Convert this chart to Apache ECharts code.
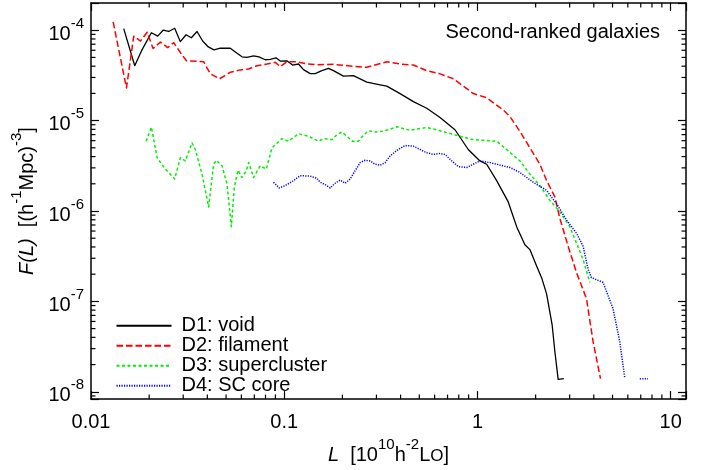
<!DOCTYPE html>
<html>
<head>
<meta charset="utf-8">
<script src="https://cdn.jsdelivr.net/npm/echarts@6/dist/echarts.min.js"></script>
<style>
  html, body { margin: 0; padding: 0; background: #fff; }
  #chart { width: 705px; height: 470px; }
</style>
</head>
<body>
<div id="chart"></div>
<script>
// Luminosity function of second-ranked galaxies in four density environments.
// L in units of 10^10 h^-2 L_sun, F(L) in (h^-1 Mpc)^-3.

const voidL = [0.01477, 0.01684, 0.01824, 0.02054, 0.02214, 0.02361, 0.02524, 0.02711, 0.0290, 0.03105,
  0.03307, 0.03538, 0.03782, 0.04048, 0.04333, 0.04669, 0.05259, 0.0563, 0.06045, 0.06415,
  0.06939, 0.0740, 0.07977, 0.08463, 0.0906, 0.09535, 0.1032, 0.1104, 0.1186, 0.1258,
  0.1363, 0.1446, 0.1566, 0.1694, 0.1798, 0.2025, 0.2281, 0.2676, 0.3134, 0.3394,
  0.3977, 0.4658, 0.5465, 0.640, 0.765, 0.896, 1.030, 1.116, 1.257, 1.443,
  1.595, 1.760, 1.868, 2.023, 2.147, 2.279, 2.436, 2.515, 2.616, 2.799];
const voidF = [1.04e-4, 4.05e-5, 5.90e-5, 9.37e-5, 8.60e-5, 1.0e-4, 9.68e-5, 1.05e-4, 7.47e-5, 8.91e-5,
  8.26e-5, 9.68e-5, 7.59e-5, 6.53e-5, 6.05e-5, 6.32e-5, 6.32e-5, 5.67e-5, 5.08e-5, 5.0e-5,
  5.21e-5, 5.08e-5, 4.71e-5, 4.76e-5, 4.95e-5, 4.56e-5, 4.59e-5, 4.12e-5, 4.23e-5, 3.66e-5,
  3.31e-5, 3.31e-5, 3.57e-5, 3.79e-5, 3.57e-5, 3.10e-5, 3.15e-5, 2.67e-5, 2.49e-5, 2.41e-5,
  1.99e-5, 1.62e-5, 1.37e-5, 1.08e-5, 7.92e-6, 4.79e-6, 3.58e-6, 3.29e-6, 2.17e-6, 1.26e-6,
  6.71e-7, 4.24e-7, 3.74e-7, 2.46e-7, 1.83e-7, 1.21e-7, 5.45e-8, 2.79e-8, 1.37e-8, 1.40e-8];

const filamentL = [0.01302, 0.01526, 0.01664, 0.01803, 0.01952, 0.02096, 0.02287, 0.02494, 0.02679, 0.0290,
  0.03116, 0.03827, 0.04146, 0.0463, 0.05259, 0.05924, 0.0654, 0.07226, 0.08139, 0.08985,
  0.09535, 0.1032, 0.1163, 0.1310, 0.1476, 0.1798, 0.2281, 0.2676, 0.3394, 0.3977,
  0.4658, 0.5465, 0.640, 0.750, 0.880, 0.951, 1.116, 1.359, 1.472, 1.658,
  1.868, 2.104, 2.279, 2.515, 2.670, 2.947, 3.256, 3.667, 3.967, 4.332];
const filamentF = [1.235e-4, 2.30e-5, 8.60e-5, 7.59e-5, 9.51e-5, 6.27e-5, 7.40e-5, 6.43e-5, 7.29e-5, 5.67e-5,
  4.59e-5, 4.48e-5, 3.29e-5, 2.90e-5, 3.43e-5, 3.64e-5, 3.73e-5, 4.05e-5, 4.23e-5, 4.41e-5,
  3.95e-5, 4.48e-5, 4.48e-5, 4.23e-5, 4.15e-5, 4.19e-5, 3.99e-5, 3.89e-5, 4.48e-5, 4.23e-5,
  4.12e-5, 3.57e-5, 3.29e-5, 2.90e-5, 2.26e-5, 1.99e-5, 1.79e-5, 1.31e-5, 1.11e-5, 7.60e-6,
  5.00e-6, 3.29e-6, 2.17e-6, 1.43e-6, 8.26e-7, 4.06e-7, 2.08e-7, 1.07e-7, 3.58e-8, 1.40e-8];

const superclusterL = [0.01929, 0.02054, 0.02198, 0.02427, 0.02711, 0.0290, 0.03078, 0.03334, 0.03467, 0.03755,
  0.04063, 0.04311, 0.04452, 0.04764, 0.05057, 0.05323, 0.05516, 0.05765, 0.06045, 0.06364,
  0.0654, 0.06939, 0.07516, 0.08072, 0.08641, 0.0973, 0.1052, 0.1186, 0.1336, 0.1504,
  0.1596, 0.1764, 0.1873, 0.1987, 0.2109, 0.2254, 0.2421, 0.2570, 0.2728, 0.2953,
  0.3198, 0.3459, 0.3822, 0.4479, 0.5465, 0.640, 0.812, 0.951, 1.257, 1.416,
  1.658, 1.868, 2.104, 2.370, 2.670, 3.006, 3.256, 3.522, 3.814];
const superclusterF = [5.92e-6, 8.47e-6, 3.89e-6, 2.90e-6, 2.26e-6, 3.89e-6, 3.58e-6, 5.67e-6, 4.79e-6, 2.56e-6,
  1.11e-6, 3.29e-6, 3.64e-6, 3.16e-6, 1.99e-6, 6.71e-7, 1.83e-6, 2.83e-6, 2.35e-6, 2.79e-6,
  3.43e-6, 2.35e-6, 3.16e-6, 2.90e-6, 5.00e-6, 6.32e-6, 5.92e-6, 7.16e-6, 6.71e-6, 5.92e-6,
  6.32e-6, 6.16e-6, 6.98e-6, 7.47e-6, 6.71e-6, 5.92e-6, 5.92e-6, 6.88e-6, 7.72e-6, 7.47e-6,
  7.60e-6, 7.92e-6, 8.54e-6, 7.80e-6, 8.41e-6, 7.72e-6, 6.71e-6, 6.16e-6, 5.92e-6, 4.79e-6,
  3.58e-6, 2.56e-6, 1.91e-6, 1.31e-6, 9.78e-7, 6.71e-7, 4.41e-7, 2.91e-7, 1.62e-7];

const coreL = [0.08805, 0.09423, 0.1012, 0.1096, 0.1209, 0.1363, 0.1476, 0.1535, 0.1629, 0.1729,
  0.1835, 0.1947, 0.2066, 0.2194, 0.2328, 0.2471, 0.2622, 0.2782, 0.2953, 0.3134,
  0.3327, 0.3530, 0.3822, 0.4221, 0.4658, 0.5045, 0.5465, 0.591, 0.640, 0.679,
  0.736, 0.796, 0.880, 1.030, 1.160, 1.472, 1.658, 1.943, 2.279, 2.567,
  2.891, 3.256, 3.522, 3.738, 3.892, 4.468, 5.033, 5.450, 5.785];
const coreF = [2.08e-6, 1.80e-6, 1.91e-6, 2.11e-6, 2.46e-6, 2.43e-6, 2.30e-6, 2.08e-6, 1.96e-6, 1.80e-6,
  2.03e-6, 2.20e-6, 2.03e-6, 2.26e-6, 2.79e-6, 3.43e-6, 3.64e-6, 3.58e-6, 3.29e-6, 3.21e-6,
  3.43e-6, 4.06e-6, 4.67e-6, 5.30e-6, 5.22e-6, 4.79e-6, 4.41e-6, 4.23e-6, 4.33e-6, 4.23e-6,
  3.58e-6, 3.10e-6, 3.03e-6, 3.58e-6, 3.43e-6, 3.03e-6, 2.67e-6, 2.08e-6, 1.69e-6, 1.20e-6,
  7.94e-7, 5.67e-7, 4.06e-7, 2.26e-7, 1.83e-7, 1.62e-7, 8.28e-8, 3.58e-8, 1.43e-8];
// isolated brightest bins of the SC core sample, separated by empty bins
const coreTailL = [6.916, 7.633];
const coreTailF = [1.39e-8, 1.39e-8];

const seriesNames = ['D1: void', 'D2: filament', 'D3: supercluster', 'D4: SC core'];
const chartTitle = 'Second-ranked galaxies';

const xTickValues = [0.01, 0.1, 1, 10];
const xTickLabels = ['0.01', '0.1', '1', '10'];
const yTickExponents = [-8, -7, -6, -5, -4];

const X_MIN = 0.01, X_MAX = 12;
const Y_MIN = 8.3e-9, Y_MAX = 2e-4;

const FONT = '"Liberation Sans", Arial, Helvetica, sans-serif';
const FS = 20;

// minor tick positions 2..9 x 10^k inside each axis range
function minorValues(lo, hi) {
  const out = [];
  for (let k = Math.floor(Math.log10(lo)); k <= Math.ceil(Math.log10(hi)); k++) {
    for (let m = 2; m <= 9; m++) {
      const v = m * Math.pow(10, k);
      if (v > lo * 1.0001 && v < hi * 0.9999) out.push(v);
    }
  }
  return out;
}

function xLabel(v) {
  for (let i = 0; i < xTickValues.length; i++) {
    if (Math.abs(Math.log10(v) - Math.log10(xTickValues[i])) < 1e-6) return xTickLabels[i];
  }
  return '';
}
function yLabel(v) {
  const e = Math.log10(v), r = Math.round(e);
  if (Math.abs(e - r) > 1e-6 || yTickExponents.indexOf(r) < 0) return '';
  return '{b|10}{s|' + r + '}';
}

const richText = {
  b: { fontFamily: FONT, fontSize: FS, lineHeight: 28, verticalAlign: 'bottom', color: '#000' },
  i: { fontFamily: FONT, fontSize: FS, lineHeight: 28, verticalAlign: 'bottom', fontStyle: 'italic', color: '#000' },
  s: { fontFamily: FONT, fontSize: 15, lineHeight: 16, verticalAlign: 'top', color: '#000' },
  o: { fontFamily: FONT, fontSize: 17, lineHeight: 12, verticalAlign: 'bottom', color: '#000' }
};

const frameLine = { show: true, onZero: false, lineStyle: { color: '#000', width: 1.5 } };
const majorTick = { show: true, inside: true, length: 8, lineStyle: { color: '#000', width: 1.2 } };

function lineSeries(name, L, F, color, width, dash) {
  return {
    name: name,
    type: 'line',
    xAxisIndex: 0,
    yAxisIndex: 0,
    data: L.map((x, i) => [x, F[i]]),
    symbol: 'none',
    showSymbol: false,
    silent: true,
    z: 3,
    lineStyle: { color: color, width: width, type: dash, cap: 'butt', join: 'round' },
    itemStyle: { color: color }
  };
}

// short inward minor ticks on both edges of the frame
function minorTickSeries(values, dim) {
  return {
    type: 'custom',
    xAxisIndex: 0,
    yAxisIndex: 0,
    silent: true,
    z: 4,
    data: values.map(v => dim === 'x' ? [v, Y_MAX] : [X_MAX, v]),
    encode: { x: 0, y: 1 },
    renderItem: function (params, api) {
      const cs = params.coordSys;
      const p = api.coord([api.value(0), api.value(1)]);
      const len = 4.5;
      const st = { stroke: '#000', lineWidth: 1.2 };
      if (dim === 'x') {
        return { type: 'group', children: [
          { type: 'line', shape: { x1: p[0], y1: cs.y + cs.height, x2: p[0], y2: cs.y + cs.height - len }, style: st },
          { type: 'line', shape: { x1: p[0], y1: cs.y, x2: p[0], y2: cs.y + len }, style: st }
        ] };
      }
      return { type: 'group', children: [
        { type: 'line', shape: { x1: cs.x, y1: p[1], x2: cs.x + len, y2: p[1] }, style: st },
        { type: 'line', shape: { x1: cs.x + cs.width, y1: p[1], x2: cs.x + cs.width - len, y2: p[1] }, style: st }
      ] };
    }
  };
}

const chart = echarts.init(document.getElementById('chart'), null, { renderer: 'canvas' });

const option = {
  animation: false,
  backgroundColor: '#fff',
  textStyle: { fontFamily: FONT },
  title: {
    text: chartTitle,
    right: 45,
    top: 22,
    padding: 0,
    textStyle: { fontFamily: FONT, fontSize: FS, fontWeight: 'normal', color: '#000' }
  },
  legend: {
    data: seriesNames,
    orient: 'vertical',
    left: 115.5,
    top: 315.7,
    padding: 0,
    itemGap: 0,
    itemWidth: 55,
    itemHeight: 14,
    selectedMode: false,
    itemStyle: { opacity: 0 },
    textStyle: { fontFamily: FONT, fontSize: FS, color: '#000', lineHeight: 20, padding: [0, 0, 0, 5] }
  },
  grid: { left: 91, right: 19, top: 3, bottom: 66, containLabel: false },
  xAxis: [
    {
      type: 'log', logBase: 10, min: X_MIN, max: X_MAX, position: 'bottom',
      axisLine: frameLine, axisTick: majorTick, splitLine: { show: false },
      axisLabel: { formatter: xLabel, fontFamily: FONT, fontSize: FS, color: '#000', margin: 13 },
      name: '{i|L}{b|  [10}{s|10}{b|h}{s|-2}{b|L}{o|O}{b|]}',
      nameLocation: 'middle',
      nameGap: 31,
      nameTextStyle: { rich: richText }
    },
    {
      type: 'log', logBase: 10, min: X_MIN, max: X_MAX, position: 'top',
      axisLine: frameLine, axisTick: majorTick, axisLabel: { show: false }, splitLine: { show: false }
    }
  ],
  yAxis: [
    {
      type: 'log', logBase: 10, min: Y_MIN, max: Y_MAX, position: 'left',
      axisLine: frameLine, axisTick: majorTick, splitLine: { show: false },
      axisLabel: { formatter: yLabel, rich: richText, margin: 7 },
      name: '{i|F(L)}{b|  [(h}{s|-1}{b|Mpc)}{s|-3}{b|]}',
      nameLocation: 'middle',
      nameRotate: 90,
      nameGap: 52,
      nameTextStyle: { rich: richText }
    },
    {
      type: 'log', logBase: 10, min: Y_MIN, max: Y_MAX, position: 'right',
      axisLine: frameLine, axisTick: majorTick, axisLabel: { show: false }, splitLine: { show: false }
    }
  ],
  series: [
    lineSeries(seriesNames[0], voidL, voidF, '#000000', 1.3, 'solid'),
    lineSeries(seriesNames[1], filamentL, filamentF, '#ff0000', 1.5, [6.5, 3]),
    lineSeries(seriesNames[2], superclusterL, superclusterF, '#00f000', 1.5, [3, 2.5]),
    lineSeries(seriesNames[3], coreL, coreF, '#0000ff', 1.5, [1.2, 1.3]),
    lineSeries(seriesNames[3], coreTailL, coreTailF, '#0000ff', 1.5, [1.2, 1.3]),
    minorTickSeries(minorValues(X_MIN, X_MAX), 'x'),
    minorTickSeries(minorValues(Y_MIN, Y_MAX), 'y')
  ]
};

chart.setOption(option);
</script>
</body>
</html>
